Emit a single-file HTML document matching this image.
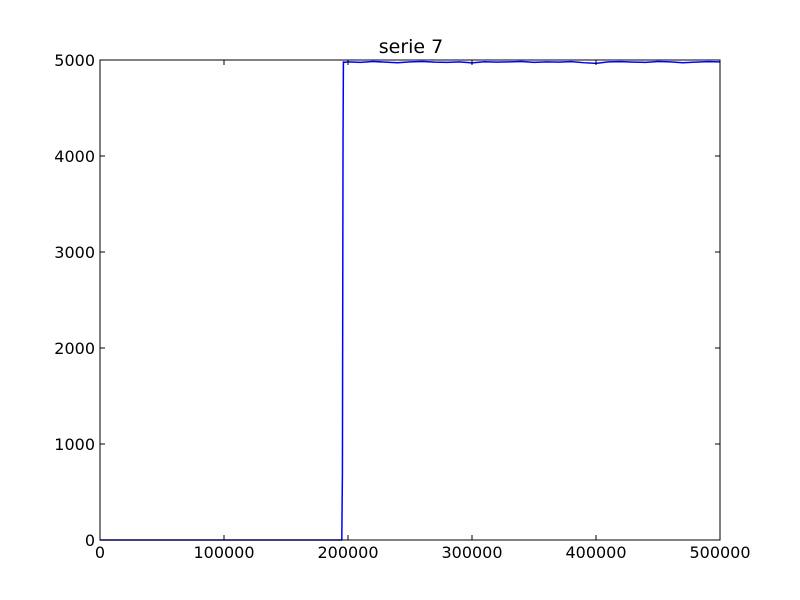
<!DOCTYPE html>
<html><head><meta charset="utf-8"><style>
body{margin:0;background:#fff;}
svg{display:block;font-family:"DejaVu Sans","Liberation Sans",sans-serif;}
</style></head><body>
<svg id="chart" width="800" height="600">
<rect x="0" y="0" width="800" height="600" fill="#fff"/>
<text x="411" y="53" text-anchor="middle" font-size="19">serie 7</text>
<g id="plot"></g>
<rect x="100" y="60" width="620" height="480" fill="none" stroke="#000" stroke-width="1"/>
<g id="axes"></g>
</svg>
<script>
const xTicks=[0,100000,200000,300000,400000,500000];
const yTicks=[0,1000,2000,3000,4000,5000];
const seriesX=[0,50000,100000,150000,195000,195500,195800,196000,196300,196600,200000,210000,220000,230000,240000,250000,260000,270000,280000,290000,300000,310000,320000,330000,340000,350000,360000,370000,380000,390000,400000,410000,420000,430000,440000,450000,460000,470000,480000,490000,500000];
const seriesY=[0,0,0,0,0,700,2800,4200,4985,4975,4980,4975,4985,4978,4972,4980,4985,4978,4975,4980,4970,4982,4978,4980,4985,4975,4980,4978,4983,4972,4965,4980,4983,4978,4975,4985,4980,4972,4978,4983,4980];
const X0=100,X1=720,Y0=540,Y1=60;
const xs=v=>X0+(v-0)/500000*(X1-X0);
const ys=v=>Y0-(v-0)/5000*(Y0-Y1);
const ns="http://www.w3.org/2000/svg";
const plot=document.getElementById('plot'),axes=document.getElementById('axes');
const line=document.createElementNS(ns,'polyline');
line.setAttribute('points',seriesX.map((x,i)=>xs(x)+','+ys(seriesY[i])).join(' '));
line.setAttribute('fill','none');line.setAttribute('stroke','#0000ff');line.setAttribute('stroke-width','1.5');


plot.appendChild(line);
xTicks.forEach(t=>{
 const x=xs(t);
 const a=document.createElementNS(ns,'path');
 a.setAttribute('d',`M${x},540v-5M${x},60v5`);a.setAttribute('stroke','#000');
 
 
 axes.appendChild(a);
 const l=document.createElementNS(ns,'text');
 l.setAttribute('x',x);l.setAttribute('y',558);l.setAttribute('text-anchor','middle');l.setAttribute('font-size','16');
 l.textContent=t;
 
 
 axes.appendChild(l);
});
yTicks.forEach(t=>{
 const y=ys(t);
 const a=document.createElementNS(ns,'path');
 a.setAttribute('d',`M100,${y}h5M720,${y}h-5`);a.setAttribute('stroke','#000');
 
 
 axes.appendChild(a);
 const l=document.createElementNS(ns,'text');
 l.setAttribute('x',95);l.setAttribute('y',y+6);l.setAttribute('text-anchor','end');l.setAttribute('font-size','16');
 l.textContent=t;
 
 
 axes.appendChild(l);
});
</script>
</body></html>
